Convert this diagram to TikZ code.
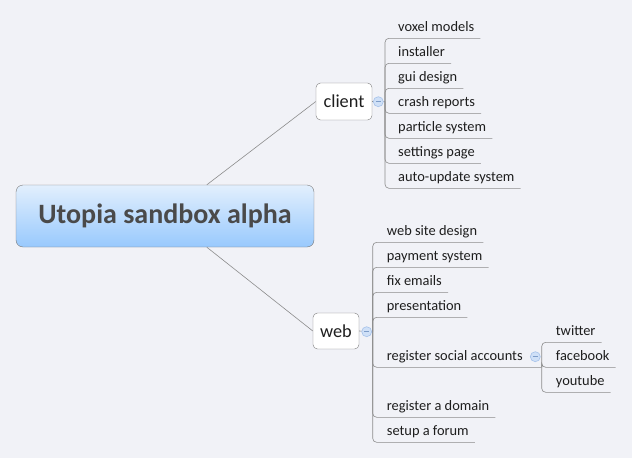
\documentclass[tikz,border=0pt]{standalone}
\usepackage{fontspec}
\setmainfont{Carlito}
\usetikzlibrary{calc}
\definecolor{bg}{HTML}{F1F2F7}
\definecolor{linecol}{HTML}{8C8C8C}
\definecolor{boxline}{HTML}{7A7A7A}
\definecolor{roottop}{HTML}{E2EFFD}
\definecolor{rootbot}{HTML}{98C9FD}
\definecolor{roottext}{HTML}{4A4A4A}
\definecolor{leaftext}{HTML}{1E1E1E}
\definecolor{circfill}{HTML}{CFE0F7}
\definecolor{circline}{HTML}{A6C2EA}
\definecolor{minuscol}{HTML}{7E9DC9}
\tikzset{
  root/.style={draw=boxline, rounded corners=7pt, top color=roottop, bottom color=rootbot,
    minimum width=298pt, minimum height=62pt, inner sep=0pt,
    font=\fontsize{28}{30}\selectfont\bfseries, text=roottext},
  topic/.style={draw=boxline, fill=white, rounded corners=4.5pt, inner sep=0pt,
    font=\fontsize{18.3}{20}\selectfont, text=leaftext},
  leaf/.style={anchor=south west, inner sep=0pt, text height=10pt, text depth=6.6pt,
    font=\fontsize{14.4}{16}\selectfont, text=leaftext},
  conn/.style={draw=linecol, line width=0.6pt},
  branch/.style={draw=linecol, line width=0.6pt, rounded corners=4pt},
  collapse/.style={circle, draw=circline, fill=circfill, minimum size=10pt, inner sep=0pt,
    line width=0.6pt,
    path picture={\draw[minuscol, line width=0.7pt]
      ([xshift=2.4pt]path picture bounding box.west) --
      ([xshift=-2.4pt]path picture bounding box.east);}}
}
\begin{document}
\begin{tikzpicture}[x=1pt,y=-1pt]
\fill[bg] (0,0) rectangle (632,458);
\useasboundingbox (0,0) rectangle (632,458);

% main topics
\node[root] (root) at (165,216) {Utopia sandbox alpha};
\node[topic, minimum width=56pt, minimum height=37pt] (client) at (344,101.5) {client};
\node[topic, minimum width=46pt, minimum height=36pt] (web) at (336,331) {web};

\coordinate (rtop) at ($(root.north west)+(191,0)$);
\coordinate (rbot) at ($(root.south west)+(191,0)$);
\draw[conn] (rtop) -- (client.west);
\draw[conn] (rbot) -- (web.west);

% client children
\coordinate (cj) at (385,101.7);
\node[leaf] (c1) at (398,38.3) {voxel models};
\node[leaf] (c2) at (398,63.3) {installer};
\node[leaf] (c3) at (398,88.3) {gui design};
\node[leaf] (c4) at (398,113.3) {crash reports};
\node[leaf] (c5) at (398,138.3) {particle system};
\node[leaf] (c6) at (398,163.3) {settings page};
\node[leaf] (c7) at (398,188.3) {auto-update system};
\draw[conn] (client.east) -- (cj);
\foreach \n in {c1,c2,c3,c4,c5,c6,c7}{
  \draw[branch] (cj) |- ($(\n.south east)+(6,0)$);
}
\node[collapse] (cc) at (378.3,101.7) {};

% web children
\coordinate (wj) at (372.7,331.7);
\node[leaf] (w1) at (386.7,242.3) {web site design};
\node[leaf] (w2) at (386.7,267.3) {payment system};
\node[leaf] (w3) at (386.7,292.3) {fix emails};
\node[leaf] (w4) at (386.7,317.3) {presentation};
\node[leaf] (w5) at (386.7,367.3) {register social accounts};
\node[leaf] (w6) at (386.7,417.3) {register a domain};
\node[leaf] (w7) at (386.7,442.3) {setup a forum};
\draw[conn] (web.east) -- (wj);
\foreach \n in {w1,w2,w3,w4,w6,w7}{
  \draw[branch] (wj) |- ($(\n.south east)+(6,0)$);
}
\coordinate (sj) at (541.7,367.3);
\draw[branch] (wj) |- (sj);
\node[collapse] (wc) at (366.7,331.7) {};

% social accounts children
\node[leaf] (s1) at (555.7,342.3) {twitter};
\node[leaf] (s2) at (555.7,367.3) {facebook};
\node[leaf] (s3) at (555.7,392.3) {youtube};
\foreach \n in {s1,s2,s3}{
  \draw[branch] (sj) |- ($(\n.south east)+(6,0)$);
}
\node[collapse] (sc) at (535.3,356.7) {};
\end{tikzpicture}
\end{document}
